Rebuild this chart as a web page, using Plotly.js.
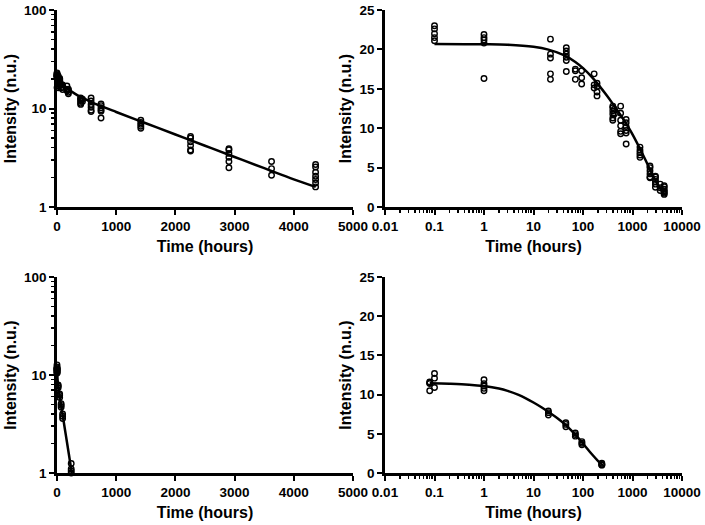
<!DOCTYPE html>
<html>
<head>
<meta charset="utf-8">
<script src="https://cdn.plot.ly/plotly-3.0.1.min.js"></script>
<style>html,body{margin:0;padding:0;background:#fff;}#chart{width:705px;height:525px;}</style>
</head>
<body>
<div id="chart"></div>
<script>
// ---- Top dataset (measured points) ----
var topTime = [
  0.1,0.1,0.1,0.1,0.1,
  1,1,1,1,1,
  22,22,22,22,22,
  46,46,46,46,46,46,
  70,70,70,
  94,94,94,
  168,168,168,
  192,192,192,192,
  400,400,400,400,400,400,
  430,430,
  576,576,576,576,576,576,
  744,744,744,744,744,744,
  1416,1416,1416,1416,1416,
  2256,2256,2256,2256,2256,2256,
  2904,2904,2904,2904,2904,2904,
  3624,3624,3624,
  4368,4368,4368,4368,4368,4368,4368
];
var topIntensity = [
  23.0,22.6,22.0,21.5,21.1,
  21.9,21.5,21.2,20.8,16.3,
  21.3,19.4,18.9,16.9,16.2,
  20.2,19.8,19.4,19.0,18.6,17.2,
  17.5,17.3,16.2,
  17.3,16.4,15.6,
  16.9,15.5,15.1,
  15.7,15.3,14.6,14.1,
  12.8,12.6,12.2,11.8,11.3,11.0,
  12.4,11.8,
  12.8,11.9,11.0,10.3,9.6,9.3,
  11.1,10.7,10.2,9.7,9.4,8.0,
  7.6,7.2,6.9,6.6,6.3,
  5.2,5.0,4.6,4.2,3.8,3.7,
  3.9,3.8,3.5,3.2,2.9,2.5,
  2.9,2.45,2.1,
  2.7,2.55,2.25,2.05,1.9,1.75,1.6
];
// fitted curve
var topFitTime = [0.1,1,3,10,20,40,70,100,150,200,300,400,600,800,1000,1500,2000,2500,3000,3500,4000,4370];
var topFitIntensity = [20.70,20.66,20.59,20.33,19.97,19.30,18.41,17.62,16.51,15.59,14.17,13.09,11.50,10.26,9.22,7.08,5.45,4.19,3.22,2.48,1.91,1.60];

// ---- Bottom dataset ----
var botTime = [
  0.08,0.08,0.08,0.08,
  0.1,0.1,0.1,
  1,1,1,1,1,
  20,20,20,
  45,45,45,
  70,70,70,
  95,95,95,
  240,240,240,240
];
var botIntensity = [
  11.5,11.4,11.6,10.5,
  12.7,12.1,10.9,
  11.9,11.4,11.1,10.8,10.5,
  7.9,7.7,7.4,
  6.4,6.2,5.9,
  5.1,4.9,4.7,
  4.0,3.8,3.6,
  1.25,1.1,1.05,1.0
];
var botFitTime = [0.08,0.2,0.5,1,2,3,5,7,10,15,20,30,45,70,100,150,200,250];
var botFitIntensity = [11.44,11.38,11.27,11.09,10.77,10.47,9.96,9.53,8.99,8.32,7.80,7.02,6.11,4.89,3.76,2.42,1.56,1.00];

var FONT = 'Liberation Sans, Arial, sans-serif';
var tickFont = {family: FONT, size: 13.5, color: '#000', weight: 'bold'};
var titleFont = {family: FONT, size: 16, color: '#000', weight: 'bold'};

function pts(x, y, xa, ya) {
  return {x: x, y: y, xaxis: xa, yaxis: ya, type: 'scatter', mode: 'markers', cliponaxis: false,
    marker: {symbol: 'circle-open', size: 5.5, color: '#000', line: {width: 1.4, color: '#000'}},
    showlegend: false, hoverinfo: 'x+y'};
}
function fit(x, y, xa, ya) {
  return {x: x, y: y, xaxis: xa, yaxis: ya, type: 'scatter', mode: 'lines', cliponaxis: false,
    line: {color: '#000', width: 2.5, shape: 'spline'}, showlegend: false, hoverinfo: 'skip'};
}

var data = [
  fit(topFitTime, topFitIntensity, 'x', 'y'), pts(topTime, topIntensity, 'x', 'y'),
  fit(topFitTime, topFitIntensity, 'x2', 'y2'), pts(topTime, topIntensity, 'x2', 'y2'),
  fit(botFitTime, botFitIntensity, 'x3', 'y3'), pts(botTime, botIntensity, 'x3', 'y3'),
  fit(botFitTime, botFitIntensity, 'x4', 'y4'), pts(botTime, botIntensity, 'x4', 'y4')
];

var X1 = [57/705, 353/705], X2 = [385/705, 682/705];
var YT = [318/525, 515/525], YB = [52/525, 248/525];

function base(extra) {
  var a = {showgrid: false, zeroline: false, showline: true, linecolor: '#000', linewidth: 2.8,
    ticks: 'outside', ticklen: 5, tickwidth: 2, tickcolor: '#000', tickfont: tickFont,
    fixedrange: true};
  for (var k in extra) a[k] = extra[k];
  return a;
}
function linX(dom, anchor) {
  return base({domain: dom, anchor: anchor, type: 'linear', range: [0, 5000], dtick: 1000, tick0: 0,
    title: {text: 'Time (hours)', font: titleFont, standoff: 8}});
}
function logX(dom, anchor) {
  return base({domain: dom, anchor: anchor, type: 'log', range: [-2, 4], dtick: 1, tickformat: '~g',
    minor: {ticks: 'outside', ticklen: 3, tickwidth: 1.5, tickcolor: '#000', dtick: 'D1'},
    title: {text: 'Time (hours)', font: titleFont, standoff: 8}});
}
function logY(dom, anchor) {
  return base({domain: dom, anchor: anchor, type: 'log', range: [0, 2], dtick: 1, tickformat: '~g',
    minor: {ticks: 'outside', ticklen: 3, tickwidth: 1.5, tickcolor: '#000', dtick: 'D1'},
    title: {text: 'Intensity (n.u.)', font: titleFont, standoff: 4}});
}
function linY(dom, anchor) {
  return base({domain: dom, anchor: anchor, type: 'linear', range: [0, 25], dtick: 5, tick0: 0,
    title: {text: 'Intensity (n.u.)', font: titleFont, standoff: 4}});
}

var layout = {
  width: 705, height: 525,
  margin: {l: 0, r: 0, t: 0, b: 0},
  paper_bgcolor: '#fff', plot_bgcolor: '#fff',
  showlegend: false,
  xaxis: linX(X1, 'y'), yaxis: logY(YT, 'x'),
  xaxis2: logX(X2, 'y2'), yaxis2: linY(YT, 'x2'),
  xaxis3: linX(X1, 'y3'), yaxis3: logY(YB, 'x3'),
  xaxis4: logX(X2, 'y4'), yaxis4: linY(YB, 'x4')
};

Plotly.newPlot('chart', data, layout, {displayModeBar: false, staticPlot: true});
</script>
</body>
</html>
